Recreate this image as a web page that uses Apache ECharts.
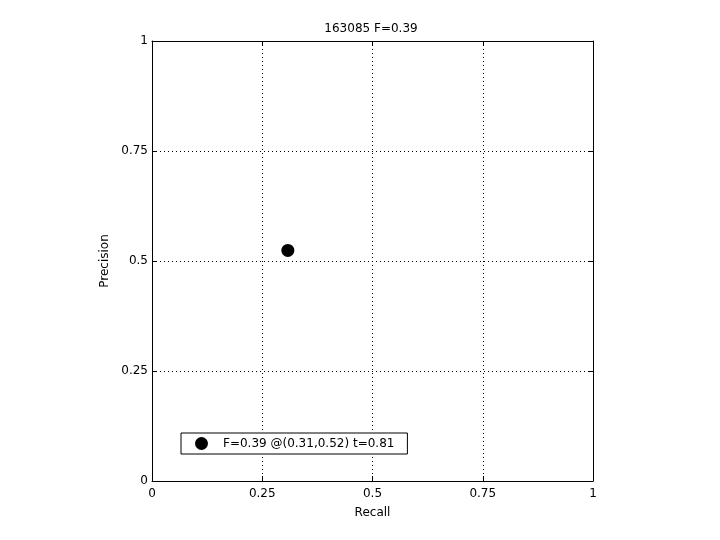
<!DOCTYPE html>
<html><head><meta charset="utf-8">
<script src="https://cdn.jsdelivr.net/npm/echarts@6/dist/echarts.min.js"></script>
<style>html,body{margin:0;padding:0;background:#fff}#c{width:720px;height:540px}</style>
</head><body><div id="c"></div>
<script>
const titleText = "163085 F=0.39";
const seriesName = "F=0.39 @(0.31,0.52) t=0.81";
const recallValues = [0.308];
const precisionValues = [0.524];
const xAxisName = "Recall";
const yAxisName = "Precision";

const font = "DejaVu Sans";
const fs = 12;
const chart = echarts.init(document.getElementById('c'), null, {renderer:'canvas'});
const dotted = {show:true, lineStyle:{color:'#000', type:[1,3], width:1}};
const baseAxis = {
  min:0, max:1, interval:0.25,
  axisLine:{show:true, onZero:false, lineStyle:{color:'#000', width:1}},
  axisTick:{show:true, inside:true, length:5, lineStyle:{color:'#000'}},
  splitLine:{show:false}
};
chart.setOption({
  animation:false,
  backgroundColor:'#fff',
  title:{text:titleText, left:366, top:18, textAlign:'center',
    textStyle:{fontFamily:font, fontSize:fs, fontWeight:'normal', color:'#000'}},
  grid:{left:152, right:127, top:41, bottom:59, containLabel:false},
  xAxis:[
    Object.assign({}, baseAxis, {type:'value', position:'bottom', name:xAxisName, nameLocation:'middle', nameGap:26,
      nameTextStyle:{fontFamily:font, fontSize:fs, color:'#000'},
      splitLine:dotted,
      axisLabel:{show:true, margin:7, fontFamily:font, fontSize:fs, color:'#000'}}),
    Object.assign({}, baseAxis, {type:'value', position:'top', axisLabel:{show:false}})
  ],
  yAxis:[
    Object.assign({}, baseAxis, {type:'value', position:'left', name:yAxisName, nameLocation:'middle', nameGap:35,
      nameTextStyle:{fontFamily:font, fontSize:fs, color:'#000'},
      splitLine:dotted,
      axisLabel:{show:true, margin:4, fontFamily:font, fontSize:fs, color:'#000'}}),
    Object.assign({}, baseAxis, {type:'value', position:'right', axisLabel:{show:false}})
  ],
  legend:{
    data:[{name:seriesName, icon:'circle'}],
    left:181, top:433,
    orient:'horizontal',
    backgroundColor:'#fff', borderColor:'#000', borderWidth:1, borderRadius:0,
    padding:[4, 13, 4, 14],
    itemWidth:13, itemHeight:13,
    textStyle:{fontFamily:font, fontSize:fs, color:'#000', padding:[0,0,0,10]},
    selectedMode:false
  },
  series:[{
    name:seriesName, type:'scatter',
    data: recallValues.map((r,i)=>[r, precisionValues[i]]),
    symbol:'circle', symbolSize:13,
    itemStyle:{color:'#000', opacity:1}
  }]
});
</script></body></html>
